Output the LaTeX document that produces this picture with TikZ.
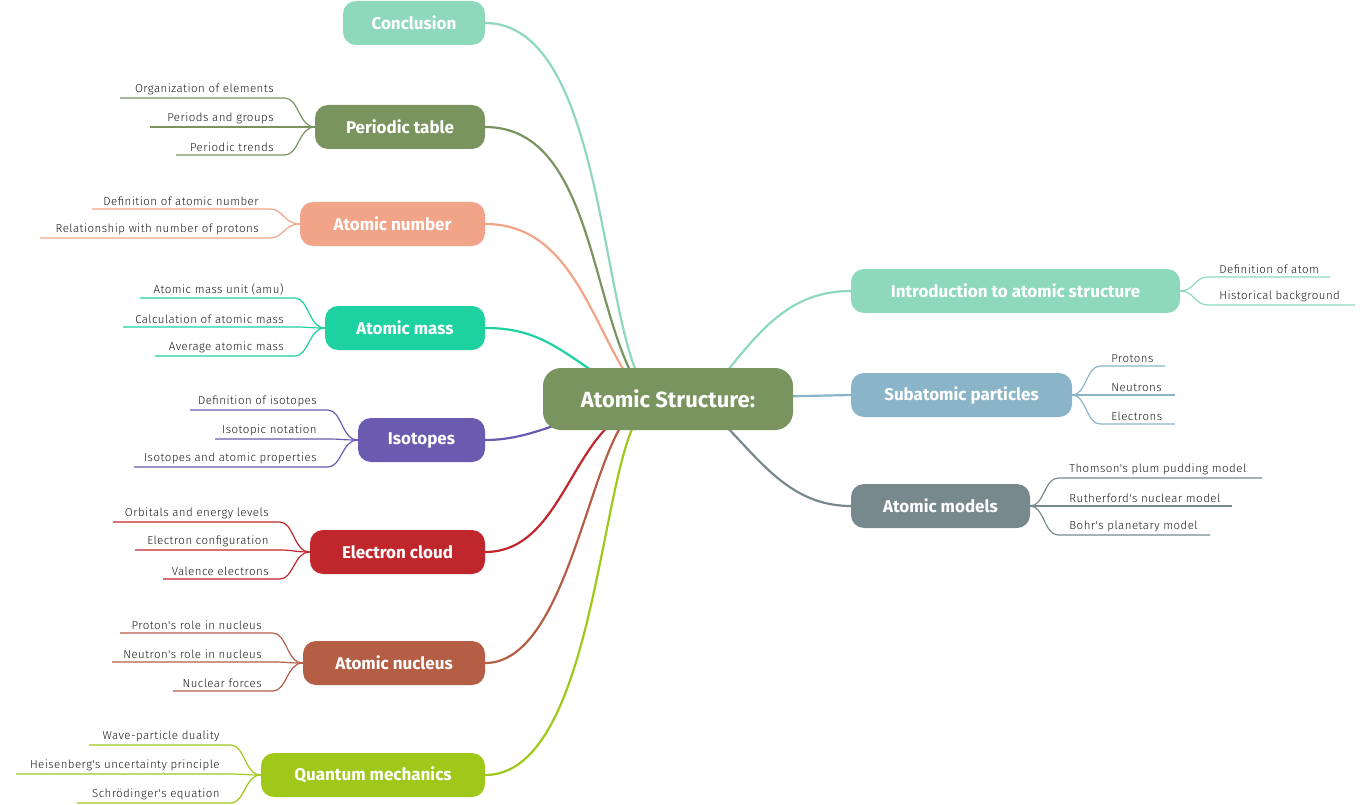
\documentclass[tikz,border=0pt]{standalone}
\usepackage{fontspec}
\setmainfont{Fira Sans}
\newfontfamily\leaffont[LetterSpace=4]{Fira Sans Light}
\usetikzlibrary{backgrounds}
\definecolor{cMint}{HTML}{8ED9BC}
\definecolor{cOlive}{HTML}{7A9460}
\definecolor{cSalmon}{HTML}{F2A488}
\definecolor{cTeal}{HTML}{1DD1A1}
\definecolor{cPurple}{HTML}{6A5BB0}
\definecolor{cRed}{HTML}{C0272D}
\definecolor{cBrown}{HTML}{B35E45}
\definecolor{cLime}{HTML}{A0C81A}
\definecolor{cBlue}{HTML}{8AB4C8}
\definecolor{cGrey}{HTML}{78898E}
\tikzset{
 branch/.style={fill=#1, rounded corners=13pt, minimum height=44pt, text=white, font=\fontsize{17}{20}\selectfont\bfseries, inner sep=0pt},
 leaf/.style={font=\leaffont\fontsize{11.5}{13}\selectfont, text=black!90, inner sep=1pt, anchor=south west},
 leafr/.style={font=\leaffont\fontsize{11.5}{13}\selectfont, text=black!90, inner sep=1pt, anchor=south east},
 conn/.style={draw=#1, line width=2.2pt},
 lline/.style={draw=#1, line width=1.2pt}
}
\newcommand\leafL[6]{%
 \node[leafr] (#1) at ([xshift=-40pt]#3.west |- 0,#4) [yshift=2pt] {#6};
 \draw[lline=#2] (#3.west) .. controls ([xshift=-16pt]#3.west) and ([xshift=-16pt]#3.west |- 0,#4) .. ([xshift=-30pt]#3.west |- 0,#4) -- (#5,#4);}
\newcommand\leafR[6]{%
 \node[leaf] (#1) at ([xshift=38pt]#3.east |- 0,#4) [yshift=2pt] {#6};
 \draw[lline=#2] (#3.east) .. controls ([xshift=14pt]#3.east) and ([xshift=14pt]#3.east |- 0,#4) .. ([xshift=28pt]#3.east |- 0,#4) -- (#5,#4);}
\begin{document}
\begin{tikzpicture}[x=1pt,y=-1pt]
\useasboundingbox (0,0) rectangle (1370,805);
\node[branch=cOlive, minimum width=250pt, minimum height=62pt, rounded corners=18pt, font=\fontsize{22}{26}\selectfont\bfseries] (root) at (668,399) {Atomic Structure:};
\node[branch=cMint, minimum width=142pt] (concl) at (414,23) {Conclusion};
\node[branch=cOlive, minimum width=170pt] (ptab) at (400,127) {Periodic table};
\node[branch=cSalmon, minimum width=185pt] (anum) at (392.5,224) {Atomic number};
\node[branch=cTeal, minimum width=160pt] (amass) at (405,328) {Atomic mass};
\node[branch=cPurple, minimum width=127pt] (iso) at (421.5,440) {Isotopes};
\node[branch=cRed, minimum width=175pt] (ecl) at (397.5,552) {Electron cloud};
\node[branch=cBrown, minimum width=182pt] (nuc) at (394,663) {Atomic nucleus};
\node[branch=cLime, minimum width=224pt] (qm) at (373,775) {Quantum mechanics};
\node[branch=cMint, minimum width=329pt] (intro) at (1015.5,291) {Introduction to atomic structure};
\node[branch=cBlue, minimum width=221pt] (sub) at (961.5,395) {Subatomic particles};
\node[branch=cGrey, minimum width=179pt] (mod) at (940.5,506) {Atomic models};
\begin{pgfonlayer}{background}
\draw[conn=cMint] (concl.east) .. controls (600,23) and (600,300) .. (640,380);
\draw[conn=cOlive] (ptab.east) .. controls (590,127) and (590,300) .. (635,380);
\draw[conn=cSalmon] (anum.east) .. controls (570,224) and (590,320) .. (630,380);
\draw[conn=cTeal] (amass.east) .. controls (540,328) and (560,350) .. (620,390);
\draw[conn=cPurple] (iso.east) .. controls (530,440) and (560,420) .. (620,405);
\draw[conn=cRed] (ecl.east) .. controls (560,552) and (570,440) .. (630,410);
\draw[conn=cBrown] (nuc.east) .. controls (570,663) and (590,440) .. (635,410);
\draw[conn=cLime] (qm.east) .. controls (600,775) and (600,440) .. (645,410);
\draw[conn=cMint] (intro.west) .. controls (790,291) and (760,330) .. (720,380);
\draw[conn=cBlue] (sub.west) -- (root.center);
\draw[conn=cGrey] (mod.west) .. controls (790,506) and (760,460) .. (720,420);
\end{pgfonlayer}
\leafL{l1}{cOlive}{ptab}{98}{120}{Organization of elements}
\leafL{l2}{cOlive}{ptab}{127}{150}{Periods and groups}
\leafL{l3}{cOlive}{ptab}{155}{176}{Periodic trends}
\leafL{l4}{cSalmon}{anum}{209}{92}{Definition of atomic number}
\leafL{l5}{cSalmon}{anum}{238}{40}{Relationship with number of protons}
\leafL{l6}{cTeal}{amass}{298}{140}{Atomic mass unit (amu)}
\leafL{l7}{cTeal}{amass}{327}{123}{Calculation of atomic mass}
\leafL{l8}{cTeal}{amass}{356}{155}{Average atomic mass}
\leafL{l9}{cPurple}{iso}{410}{190}{Definition of isotopes}
\leafL{l10}{cPurple}{iso}{439}{215}{Isotopic notation}
\leafL{l11}{cPurple}{iso}{467}{134}{Isotopes and atomic properties}
\leafL{l12}{cRed}{ecl}{522}{113}{Orbitals and energy levels}
\leafL{l13}{cRed}{ecl}{550}{135}{Electron configuration}
\leafL{l14}{cRed}{ecl}{579}{163}{Valence electrons}
\leafL{l15}{cBrown}{nuc}{633}{120}{Proton's role in nucleus}
\leafL{l16}{cBrown}{nuc}{662}{112}{Neutron's role in nucleus}
\leafL{l17}{cBrown}{nuc}{691}{173}{Nuclear forces}
\leafL{l18}{cLime}{qm}{745}{89}{Wave-particle duality}
\leafL{l19}{cLime}{qm}{774}{16}{Heisenberg's uncertainty principle}
\leafL{l20}{cLime}{qm}{803}{77}{Schrödinger's equation}
\leafR{r1}{cMint}{intro}{277}{1330}{Definition of atom}
\leafR{r2}{cMint}{intro}{305}{1355}{Historical background}
\leafR{r3}{cBlue}{sub}{366}{1165}{Protons}
\leafR{r4}{cBlue}{sub}{395}{1175}{Neutrons}
\leafR{r5}{cBlue}{sub}{424}{1175}{Electrons}
\leafR{r6}{cGrey}{mod}{478}{1262}{Thomson's plum pudding model}
\leafR{r7}{cGrey}{mod}{506}{1232}{Rutherford's nuclear model}
\leafR{r8}{cGrey}{mod}{535}{1210}{Bohr's planetary model}
\end{tikzpicture}
\end{document}
